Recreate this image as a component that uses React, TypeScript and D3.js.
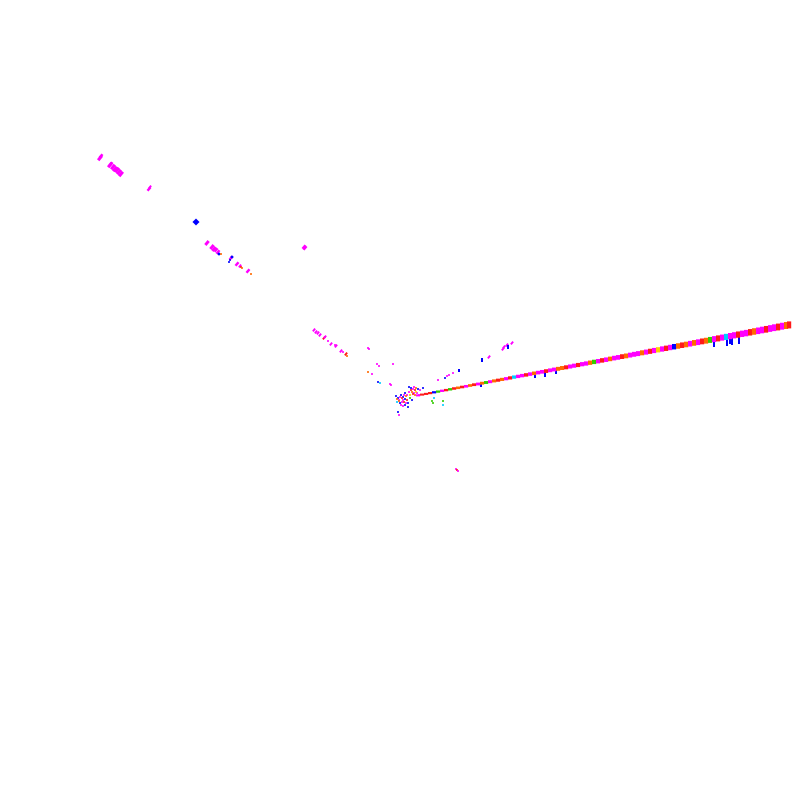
import React from "react";
import * as d3 from "d3";

// Event display: projected hit positions (detector units), energy category, amplitude

// Energy categories: 0 magenta, 1 red, 2 orange, 3 yellow, 4 green, 5 cyan, 6 blue
const energyLabels = ["E0", "E1", "E2", "E3", "E4", "E5", "E6"];

// Main track hits
const trackU = [18,22,26,30,34,38,42,46,50,54,58,62,66,70,74,78,82,86,90,94,98,102,106,110,114,118,122,126,130,134,138,142,146,150,154,158,162,166,170,174,178,182,186,190,194,198,202,206,210,214,218,222,226,230,234,238,242,246,250,254,258,262,266,270,274,278,282,286,290,294,298,302,306,310,314,318,322,326,330,334,338,342,346,350,354,358,362,366,370,374,378,382,386,389];
const trackV = [4.6,5.4,6.1,6.9,7.7,8.4,9.2,9.9,10.7,11.5,12.2,13.0,13.7,14.5,15.3,16.0,16.8,17.5,18.3,19.1,19.8,20.6,21.3,22.1,22.9,23.6,24.4,25.1,25.9,26.7,27.4,28.2,28.9,29.7,30.5,31.2,32.0,32.7,33.5,34.3,35.0,35.8,36.5,37.3,38.1,38.8,39.6,40.3,41.1,41.9,42.6,43.4,44.1,44.9,45.7,46.4,47.2,47.9,48.7,49.5,50.2,51.0,51.7,52.5,53.3,54.0,54.8,55.5,56.3,57.1,57.8,58.6,59.3,60.1,60.9,61.6,62.4,63.1,63.9,64.7,65.4,66.2,66.9,67.7,68.5,69.2,70.0,70.7,71.5,72.3,73.0,73.8,74.5,75.1];
const trackE = [0,1,1,1, 6,4,0,1, 4,1,2,1, 0,2,1,0, 2,4,0,2, 1,2,0,1, 5,0,0,1, 0,2,0,0, 1,0,0,2, 2,1,0,0, 1,0,0,2, 4,0,1,0, 2,0,0,1, 2,0,0,0, 2,0,1,0, 3,0,1,0, 6,2,1,2, 0,2,0,1, 2,4,0,1, 0,5,0,0, 1,0,0,1, 2,0,0,1, 0,0,1,0, 2,1];

// Elongated (blue) deposits below the track: position and extent
const barU = [59, 82, 81, 108, 135, 145, 156, 314, 327, 330, 332, 339];
const barV0 = [28, 38, 13, 51, 22, 23, 26, 53, 54, 56, 55, 56];
const barV1 = [31, 42, 16, 55, 26, 28, 30, 59, 62, 62, 62, 64];

// Isolated hits
const hitU = [
  -300,-299,-290,-289,-287,-285,-283,-281,-279,-251,-250,-204,-193,-188,-186,-184,-182,-181,-179,-169,-168,-170,-171,-163,-160,-159,-158,-152,-149,-95,-96,
  -86,-84,-82,-80,-76,-75,-72,-69,-65,-64,-59,-57,-54,-53,-32,-31,-23,-21,-7,-32,-28,-22,-20,-10,23,38,45,47,49,53,89,103,104,107,112,
  -1,-2,32,33,34,43,43,56,57,58,
  -9,11,13,15,12,14,13,15,10,5,7,3,2,0,-2,-3,-1,3,5,7,2,4,6,8,0,-3,10,12,8,3,17,19,
  9,14,16,11,16,9,6,1,4,-4,-1,5,1,20,18
];
const hitV = [
  242,244,235,236,233,231,230,228,226,211,213,178,157,153,151,150,148,146,146,142,143,140,138,136,134,133,132,129,126,152,153,
  70,68,67,65,62,63,59,56,55,54,49,48,46,44,52,51,36,34,36,28,26,18,17,16,12,20,22,24,25,27,43,51,53,55,57,
  -15,-12,-1,-3,2,-1,-5,-69,-70,-71,
  15,12,11,10,8,7,6,5,5,7,5,3,2,3,2,1,0,0,1,0,-2,-2,-3,-3,-3,-2,2,0,-7,-6,7,5,
  13,13,12,10,8,8,4,5,5,4,-1,-5,-5,10,11
];
const hitE = [
  0,0,0,0,0,0,0,0,0,0,0,6,0,0,0,0,0,6,2,0,6,6,6,0,0,1,2,0,2,0,0,
  0,0,0,0,1,0,0,0,0,0,0,0,1,2,0,0,0,0,0,2,0,6,5,0,6,0,6,0,0,0,0,0,0,0,0,
  0,6,4,4,5,4,5,0,1,0,
  0,6,0,1,2,0,1,2,3,6,0,6,1,0,6,2,0,0,6,1,0,1,0,6,6,5,4,6,6,0,0,0,
  6,0,2,1,3,0,2,6,0,6,2,6,0,0,6
];
const hitA = [
  4,3,4,3,4,4,4,4,4,3,2,5,3.5,3.5,3.5,3,3,2,1,3,2,1,1,3,2,1,1,3,1,3,3,
  2,2,2,2,2,2,1,2,1,2,2,1,2,1,1,1,1,1,1,1,1,1,1,1,1,1,1,1,1,1,2,2,2,2,2,
  1,1,1,1,1,1,1,1,1,1,
  1,1,1,1,1,1,1,1,1,1,1,1,1,1,1,1,1,1,1,1,1,1,1,1,1,1,1,1,1,1,1,1,
  1,1,1,1,1,1,1,1,1,1,1,1,1,1,1
];

const palette = ["#ff00ff", "#ff1a1a", "#ff6a00", "#ffcc00", "#33cc00", "#00ccff", "#0000ff"];

export default function App() {
  const W = 800, H = 800;
  const x = d3.scaleLinear().domain([-400, 400]).range([0, W]);
  const y = d3.scaleLinear().domain([-400, 400]).range([H, 0]);
  const color = d3.scaleOrdinal<number, string>().domain(d3.range(energyLabels.length)).range(palette);
  const trackH = d3.scaleLinear().domain([18, 390]).range([2, 7]);
  const ampSize = d3.scaleLinear().domain([1, 5]).range([1.8, 5]);

  return (
    <svg width={W} height={H} style={{ position: "fixed", left: 0, top: 0, background: "#fff" }}>
      <g>
        {hitU.map((u, i) => {
          const s = ampSize(hitA[i]);
          const cx = x(u), cy = y(hitV[i]);
          if (s > 2.5 && hitE[i] !== 6) {
            const w = s * 0.75, h = s * 1.35;
            return (
              <rect key={"h" + i} x={cx - w / 2} y={cy - h / 2} width={w} height={h}
                fill={color(hitE[i])} transform={`rotate(40 ${cx} ${cy})`} />
            );
          }
          return (
            <rect key={"h" + i} x={cx - s / 2} y={cy - s / 2} width={s} height={s}
              fill={color(hitE[i])} transform={s > 2.5 ? `rotate(45 ${cx} ${cy})` : undefined} />
          );
        })}
      </g>
      <g>
        {barU.map((u, i) => (
          <rect key={"b" + i} x={x(u) - 1} y={y(barV1[i])} width={2} height={y(barV0[i]) - y(barV1[i])} fill={color(6)} />
        ))}
      </g>
      <g>
        {trackU.map((u, i) => {
          const h = trackH(u);
          return (
            <rect key={"t" + i} x={x(u) - 2} y={y(trackV[i]) - h / 2} width={4.2} height={h} fill={color(trackE[i])} />
          );
        })}
      </g>
    </svg>
  );
}
